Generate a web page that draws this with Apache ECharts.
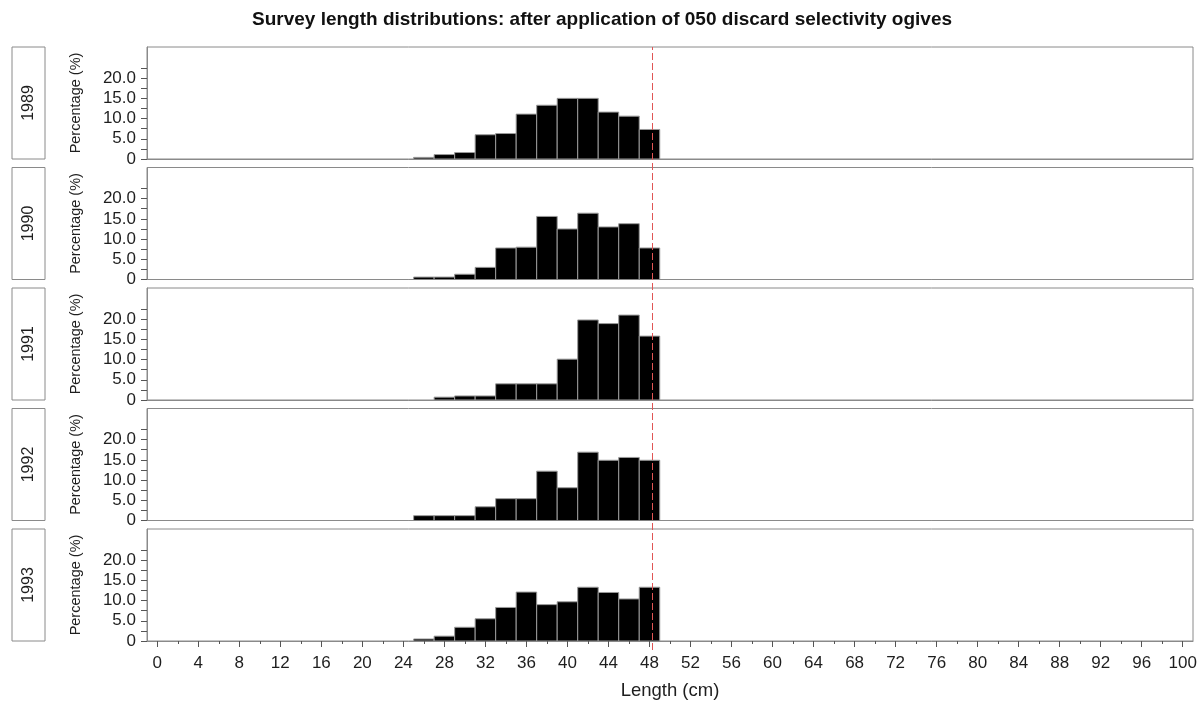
<!DOCTYPE html>
<html>
<head>
<meta charset="utf-8">
<script src="https://cdn.jsdelivr.net/npm/echarts@6/dist/echarts.min.js"></script>
<style>html,body{margin:0;padding:0;background:#fff}#c{width:1204px;height:711px}</style>
</head>
<body>
<div id="c"></div>
<script>
// ---- data ----
const years = ['1989', '1990', '1991', '1992', '1993'];
const lengths = [26, 28, 30, 32, 34, 36, 38, 40, 42, 44, 46, 48];
const pct1989 = [0.4, 1.1, 1.6, 6.0, 6.3, 11.1, 13.3, 15.0, 15.0, 11.6, 10.6, 7.3];
const pct1990 = [0.6, 0.6, 1.3, 3.0, 7.8, 8.0, 15.6, 12.5, 16.4, 13.0, 13.8, 7.8];
const pct1991 = [0.0, 0.7, 1.0, 1.0, 4.0, 4.0, 4.0, 10.1, 19.8, 18.9, 21.0, 15.8];
const pct1992 = [1.2, 1.2, 1.2, 3.4, 5.4, 5.4, 12.2, 8.1, 16.9, 14.9, 15.6, 14.9];
const pct1993 = [0.5, 1.2, 3.4, 5.5, 8.3, 12.1, 9.0, 9.7, 13.3, 12.0, 10.4, 13.3];
const binWidth = 2;
const cutoff = 48.3;
const yTicks = [0, 2.5, 5, 7.5, 10, 12.5, 15, 17.5, 20, 22.5];
const yLabels = [0, 5, 10, 15, 20];
const xMajor = [0, 4, 8, 12, 16, 20, 24, 28, 32, 36, 40, 44, 48, 52, 56, 60, 64, 68, 72, 76, 80, 84, 88, 92, 96, 100];
const xMinor = [2, 6, 10, 14, 18, 22, 26, 30, 34, 38, 42, 46, 50, 54, 58, 62, 66, 70, 74, 78, 82, 86, 90, 94, 98];
const series = [pct1989, pct1990, pct1991, pct1992, pct1993];

// ---- layout ----
const FONT = 'Liberation Sans, Arial, sans-serif';
const TXT = '#1e1e1e';
const BORDER = '#8a8a8a';
const X_MIN = -1, X_MAX = 101, Y_MAX = 27.7;
const TOP0 = 47, STEP = 120.5, H = 112;

const grid = [], xAxis = [], yAxis = [], ser = [];
years.forEach((yr, i) => {
  const top = TOP0 + STEP * i;
  const last = i === years.length - 1;
  grid.push({ left: 147, right: 11, top: top, height: H, show: true, borderColor: BORDER, borderWidth: 1, backgroundColor: '#fff' });
  xAxis.push({
    gridIndex: i, type: 'value', min: X_MIN, max: X_MAX,
    axisLine: { show: true, onZero: false, lineStyle: { color: BORDER } },
    splitLine: { show: false },
    axisTick: { show: last, customValues: xMajor, length: 6, lineStyle: { color: '#555' } },
    axisLabel: { show: last, customValues: xMajor, fontSize: 17, color: TXT, fontFamily: FONT, margin: 14 },
    name: last ? 'Length (cm)' : '', nameLocation: 'middle', nameGap: 40,
    nameTextStyle: { fontSize: 18.5, color: TXT, fontFamily: FONT }
  });
  yAxis.push({
    gridIndex: i, type: 'value', min: 0, max: Y_MAX,
    axisLine: { show: true, onZero: false, lineStyle: { color: BORDER } },
    splitLine: { show: false },
    axisTick: { show: true, customValues: yTicks, length: 6, lineStyle: { color: '#555' } },
    axisLabel: { customValues: yLabels, fontSize: 17, color: TXT, fontFamily: FONT, margin: 11,
      formatter: v => (v === 0 ? '0' : v.toFixed(1)) },
    name: 'Percentage (%)', nameLocation: 'middle', nameRotate: 90, nameGap: 64,
    nameTextStyle: { fontSize: 14.5, color: TXT, fontFamily: FONT }
  });
  ser.push({
    type: 'custom', xAxisIndex: i, yAxisIndex: i, clip: true,
    data: lengths.map((l, k) => [l, series[i][k]]),
    encode: { x: 0, y: 1 },
    renderItem: (params, api) => {
      const x = api.value(0), y = api.value(1);
      if (!y) return null;
      const p0 = api.coord([x - binWidth / 2, y]);
      const p1 = api.coord([x + binWidth / 2, 0]);
      return { type: 'rect', shape: { x: p0[0], y: p0[1], width: p1[0] - p0[0], height: p1[1] - p0[1] },
        style: { fill: '#000', stroke: '#9a9a9a', lineWidth: 1 } };
    }
  });
});

// strip boxes with year labels
years.forEach((yr, i) => {
  const top = TOP0 + STEP * i;
  const gi = grid.length;
  grid.push({ left: 12, width: 33, top: top, height: H, show: true, borderColor: BORDER, borderWidth: 1 });
  xAxis.push({ gridIndex: gi, type: 'value', show: false });
  yAxis.push({ gridIndex: gi, type: 'value', show: true,
    axisLine: { show: false }, axisTick: { show: false }, axisLabel: { show: false }, splitLine: { show: false },
    name: yr, nameLocation: 'middle', nameRotate: 90, nameGap: -25,
    nameTextStyle: { fontSize: 16, color: TXT, fontFamily: FONT } });
});

// minor x ticks on bottom panel
xAxis.push({ gridIndex: years.length - 1, type: 'value', min: X_MIN, max: X_MAX, position: 'bottom',
  axisLine: { show: false, onZero: false }, splitLine: { show: false }, axisLabel: { show: false },
  axisTick: { show: true, customValues: xMinor, length: 3, lineStyle: { color: '#555' } } });

// overlay grid for the cutoff line spanning all panels
const og = grid.length;
grid.push({ left: 147, right: 11, top: TOP0, height: STEP * 4 + H + 9 });
xAxis.push({ gridIndex: og, type: 'value', min: X_MIN, max: X_MAX, show: false });
yAxis.push({ gridIndex: og, type: 'value', min: 0, max: 1, show: false });
ser.push({
  type: 'scatter', xAxisIndex: xAxis.length - 1, yAxisIndex: yAxis.length - 1, z: 10,
  symbolSize: 0, data: [[cutoff, 0]], silent: true,
  markLine: { symbol: 'none', silent: true, label: { show: false },
    lineStyle: { color: '#e05555', type: [7, 3], width: 1 },
    data: [{ xAxis: cutoff }] }
});

const chart = echarts.init(document.getElementById('c'), null, { renderer: 'canvas' });
chart.setOption({
  animation: false,
  backgroundColor: '#fff',
  title: { text: 'Survey length distributions: after application of 050 discard selectivity ogives',
    left: 'center', top: 5, textStyle: { fontSize: 19, fontWeight: 'bold', color: '#111', fontFamily: FONT } },
  grid, xAxis, yAxis, series: ser
});
</script>
</body>
</html>
